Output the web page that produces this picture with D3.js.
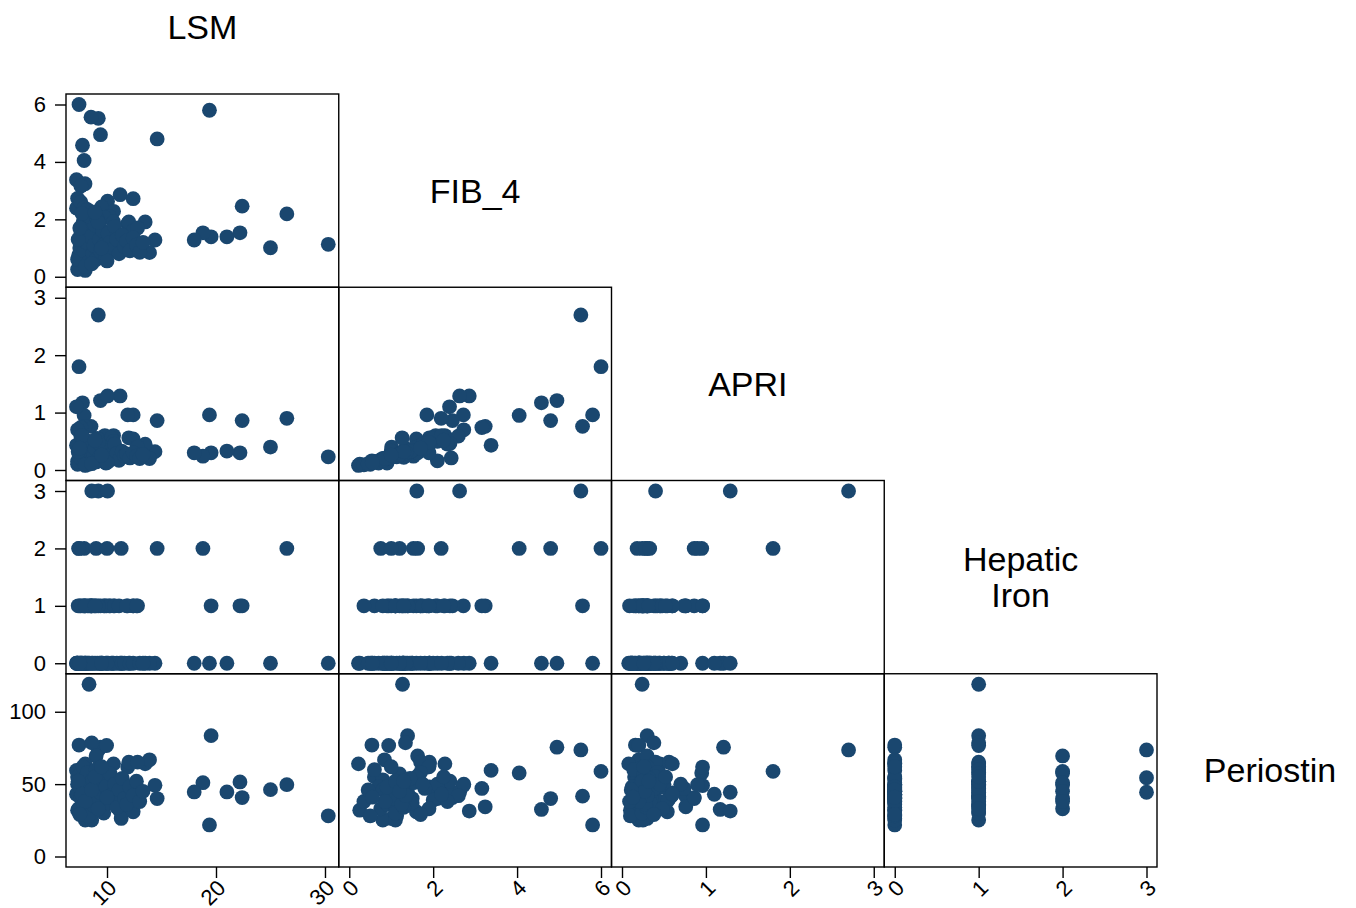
<!DOCTYPE html>
<html>
<head>
<meta charset="utf-8">
<script src="https://cdn.jsdelivr.net/npm/d3@7"></script>
<style>
  body { margin: 0; background: #fff; }
  text { font-family: "Liberation Sans", Arial, Helvetica, sans-serif; fill: #000; }
</style>
</head>
<body>
<svg id="chart" width="1356" height="908"></svg>
<script>
// one entry per subject, same order in every array
var lsm = [7.43, 9.2, 8.53, 9.4, 14.6, 19.4, 7.75, 7.9, 7.2, 7.98,
  11.2, 10.05, 12.4, 22.4, 26.5, 30.3, 25.0, 22.2, 21.0, 19.55,
  18.8, 18.0, 14.4, 13.5, 13.9, 11.9, 12.0, 8.35, 8.6, 7.2,
  7.43, 8.6, 9.96, 9.0, 8.0, 10.6, 7.3, 7.6, 11.3, 12.4,
  8.0, 8.6, 12.8, 9.5, 10.2, 7.3, 7.6, 7.9, 8.2, 7.4,
  10.0, 11.3, 9.8, 10.4, 10.6, 7.3, 7.5, 7.6, 7.8, 7.9,
  8.1, 8.2, 8.3, 8.4, 8.5, 8.7, 8.8, 8.9, 9.0, 9.1,
  9.3, 9.4, 9.6, 9.7, 9.9, 10.1, 10.3, 10.5, 10.7, 10.9,
  11.1, 11.4, 11.6, 11.8, 12.1, 12.4, 12.7, 13.0, 13.3, 7.35,
  7.7, 8.0, 8.6, 9.2, 10.0, 7.5, 8.9, 9.5];

var fib4 = [6.00, 5.52, 5.56, 4.95, 4.80, 5.80, 4.58, 4.05, 3.38, 3.24,
  2.86, 2.63, 2.72, 2.46, 2.19, 1.13, 1.01, 1.53, 1.39, 1.39,
  1.53, 1.28, 1.28, 1.91, 0.84, 1.85, 1.91, 1.27, 1.61, 2.39,
  0.54, 1.34, 0.94, 1.63, 0.22, 2.28, 0.25, 3.16, 1.00, 1.60,
  0.80, 1.10, 1.70, 2.43, 2.10, 2.73, 2.60, 2.40, 2.34, 0.75,
  1.20, 1.00, 2.06, 1.26, 1.91, 0.60, 1.00, 1.50, 1.90, 0.90,
  1.20, 1.70, 0.50, 2.10, 1.40, 0.80, 1.10, 1.80, 0.60, 2.00,
  1.30, 0.90, 1.60, 1.10, 0.70, 1.50, 1.20, 0.95, 1.75, 1.30,
  0.80, 1.45, 1.05, 1.25, 0.90, 1.35, 1.10, 0.85, 1.20, 1.30,
  2.20, 0.35, 0.45, 1.90, 0.55, 1.70, 2.25, 1.00];

var apri = [1.80, 2.70, 0.76, 1.21, 0.86, 0.96, 1.17, 0.95, 0.43, 0.76,
  1.29, 1.29, 0.96, 0.86, 0.90, 0.23, 0.40, 0.30, 0.33, 0.30,
  0.24, 0.30, 0.32, 0.45, 0.20, 0.96, 0.56, 0.24, 0.40, 1.10,
  0.16, 0.38, 0.20, 0.30, 0.08, 0.60, 0.10, 0.74, 0.30, 0.54,
  0.20, 0.25, 0.40, 0.21, 0.16, 0.70, 0.59, 0.46, 0.45, 0.18,
  0.28, 0.33, 0.60, 0.56, 0.50, 0.15, 0.22, 0.35, 0.30, 0.12,
  0.28, 0.42, 0.10, 0.50, 0.30, 0.18, 0.26, 0.38, 0.14, 0.55,
  0.22, 0.20, 0.40, 0.24, 0.12, 0.34, 0.26, 0.20, 0.45, 0.29,
  0.17, 0.32, 0.25, 0.28, 0.21, 0.30, 0.24, 0.20, 0.27, 0.32,
  0.60, 0.09, 0.11, 0.48, 0.13, 0.38, 0.52, 0.26];

var iron = [2, 3, 1, 0, 2, 0, 0, 2, 0, 1,
  0, 3, 1, 1, 2, 0, 0, 1, 0, 1,
  2, 0, 0, 0, 0, 1, 0, 1, 3, 0,
  0, 1, 1, 2, 0, 1, 0, 1, 0, 1,
  0, 1, 1, 0, 1, 0, 0, 1, 0, 2,
  2, 2, 1, 0, 0, 0, 1, 0, 1, 0,
  0, 1, 0, 0, 1, 0, 1, 0, 1, 0,
  0, 1, 0, 1, 0, 0, 1, 0, 1, 0,
  1, 0, 0, 1, 0, 0, 1, 0, 0, 1,
  0, 1, 0, 1, 0, 0, 1, 0];

var periostin = [58.8, 73.6, 41.7, 75.5, 40.0, 21.8, 32.5, 57.7, 59.5, 34.3,
  31.4, 44.4, 49.0, 40.7, 49.6, 28.1, 46.2, 51.5, 44.6, 83.5,
  51.0, 44.6, 49.2, 64.0, 66.8, 61.8, 65.2, 119.0, 54.4, 43.0,
  77.0, 78.5, 76.7, 69.5, 64.0, 64.0, 32.0, 47.0, 26.3, 30.9,
  25.2, 25.2, 65.2, 45.0, 40.0, 50.0, 42.0, 52.0, 38.0, 33.0,
  45.0, 38.0, 44.0, 40.0, 48.0, 55.0, 48.0, 40.0, 62.0, 36.0,
  45.0, 58.0, 28.0, 50.0, 42.0, 53.0, 35.0, 47.0, 60.0, 39.0,
  51.0, 44.0, 55.0, 30.0, 48.0, 37.0, 57.0, 43.0, 50.0, 34.0,
  46.0, 54.0, 40.0, 36.0, 48.0, 42.0, 52.0, 38.0, 45.0, 52.0,
  43.0, 38.0, 46.0, 33.0, 41.0, 29.0, 55.0, 62.0];

// variable names and tick labels
var names = [["LSM"], ["FIB_4"], ["APRI"], ["Hepatic", "Iron"], ["Periostin"]];
var lsmTicks = [10, 20, 30];
var fibTicks = [0, 2, 4, 6];
var apriTicks = [0, 1, 2, 3];
var ironTicks = [0, 1, 2, 3];
var periostinTicks = [0, 50, 100];

var cols = [lsm, fib4, apri, iron, periostin];
var ticks = [lsmTicks, fibTicks, apriTicks, ironTicks, periostinTicks];

// layout
var gridLeft = 66, gridTop = 94;
var cellW = 272.75, cellH = 193.25;
var pad = 10.5;
var dotColor = "#1a476f";

var svg = d3.select("#chart");

function domainOf(k) {
    return d3.extent(cols[k].concat(ticks[k]));
}

function xScaleFor(k) {
    var x0 = gridLeft + k * cellW;
    return d3.scaleLinear().domain(domainOf(k)).range([x0 + pad, x0 + cellW - pad]);
}

function yScaleFor(k) {
    // variable k sits on row k-1
    var y0 = gridTop + (k - 1) * cellH;
    return d3.scaleLinear().domain(domainOf(k)).range([y0 + cellH - pad, y0 + pad]);
}

var rows = d3.range(cols[0].length);

for (var r = 1; r < 5; r++) {
    var y = yScaleFor(r);
    for (var c = 0; c < r; c++) {
        var x = xScaleFor(c);

        // points
        svg.append("g")
            .selectAll("circle")
            .data(rows)
            .enter()
            .append("circle")
            .attr("cx", (function(xs, k) { return function(i) { return xs(cols[k][i]); }; })(x, c))
            .attr("cy", (function(ys, k) { return function(i) { return ys(cols[k][i]); }; })(y, r))
            .attr("r", 7.4)
            .attr("fill", dotColor);

        // panel frame
        svg.append("rect")
            .attr("x", gridLeft + c * cellW)
            .attr("y", gridTop + (r - 1) * cellH)
            .attr("width", cellW)
            .attr("height", cellH)
            .attr("fill", "none")
            .attr("stroke", "#000")
            .attr("stroke-width", 1.4);

        // bottom axis on last row
        if (r == 4) {
            var gx = svg.append("g")
                .attr("transform", "translate(0," + (gridTop + 4 * cellH) + ")")
                .call(d3.axisBottom(x).tickValues(ticks[c]).tickSize(11).tickFormat(d3.format("d")));
            gx.select(".domain").remove();
            gx.selectAll("line").attr("stroke-width", 1.4);
            gx.selectAll("text")
                .attr("font-size", 22)
                .attr("text-anchor", "end")
                .attr("y", 0)
                .attr("dy", "0.35em")
                .attr("transform", "translate(5,17) rotate(-45)");
        }
    }

    // left axis on first column
    var gy = svg.append("g")
        .attr("transform", "translate(" + gridLeft + ",0)")
        .call(d3.axisLeft(y).tickValues(ticks[r]).tickSize(11).tickPadding(9).tickFormat(d3.format("d")));
    gy.select(".domain").remove();
    gy.selectAll("line").attr("stroke-width", 1.4);
    gy.selectAll("text").attr("font-size", 22);
}

// variable names on the diagonal
var labelPos = [
    [gridLeft + cellW / 2, 27],
    [gridLeft + 1.5 * cellW, gridTop + cellH / 2],
    [gridLeft + 2.5 * cellW, gridTop + 1.5 * cellH],
    [gridLeft + 3.5 * cellW, gridTop + 2.5 * cellH],
    [1270, gridTop + 3.5 * cellH]
];

names.forEach(function(lines, k) {
    var t = svg.append("text")
        .attr("x", labelPos[k][0])
        .attr("y", labelPos[k][1])
        .attr("text-anchor", "middle")
        .attr("font-size", 34);
    lines.forEach(function(s, j) {
        t.append("tspan")
            .attr("x", labelPos[k][0])
            .attr("dy", j == 0 ? (0.35 - (lines.length - 1) * 0.53) + "em" : "1.06em")
            .text(s);
    });
});
</script>
</body>
</html>
